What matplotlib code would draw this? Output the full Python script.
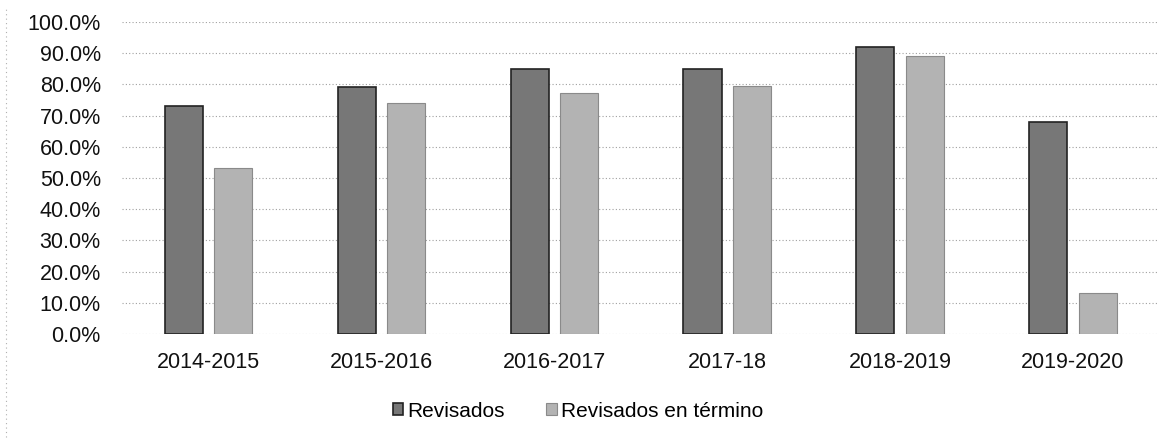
import numpy as np
import matplotlib
matplotlib.use("Agg")
import matplotlib.pyplot as plt
from matplotlib.ticker import PercentFormatter

plt.rcParams['font.family'] = ['Liberation Sans', 'DejaVu Sans']

periodos = ["2014-2015", "2015-2016", "2016-2017", "2017-18", "2018-2019", "2019-2020"]
revisados = [73.0, 79.0, 85.0, 85.0, 92.0, 68.0]
revisados_termino = [53.3, 74.0, 77.2, 79.3, 89.2, 13.2]

fig = plt.figure(figsize=(11.7, 4.46), dpi=100)
ax = fig.add_axes([0.104, 0.251, 0.887, 0.70])

x = np.arange(len(periodos))
w = 0.22
off = 0.142
ax.bar(x - off, revisados, w, color="#777777", edgecolor="#222222", linewidth=1.2,
       label="Revisados", zorder=3)
ax.bar(x + off, revisados_termino, w, color="#b3b3b3", edgecolor="#8a8a8a", linewidth=0.8,
       label="Revisados en término", zorder=3)

ax.set_xlim(-0.5, len(periodos) - 0.5)
ax.set_ylim(0, 100)
ax.set_yticks(np.arange(0, 101, 10))
ax.yaxis.set_major_formatter(PercentFormatter(decimals=1))
ax.set_xticks(x)
ax.set_xticklabels(periodos)
ax.tick_params(axis='both', length=0, labelsize=15.5, colors="#111111")
ax.tick_params(axis='y', pad=15)
ax.tick_params(axis='x', pad=13)
ax.grid(axis='y', color="#a0a0a0", linestyle=(0, (1, 2)), linewidth=0.8, zorder=0)
for s in ax.spines.values():
    s.set_visible(False)

fig.legend(loc="center", bbox_to_anchor=(0.494, 0.078), ncol=2, frameon=False,
           fontsize=15, handlelength=0.5, handleheight=0.5, handletextpad=0.2,
           columnspacing=2.0)

# faint dotted border on the left of the chart area
fig.add_artist(plt.Line2D([0.005, 0.005], [0.02, 0.98], color="#b0b0b0",
                          linestyle=(0, (1, 3)), linewidth=0.8))

fig.savefig("out.png", dpi=100)
